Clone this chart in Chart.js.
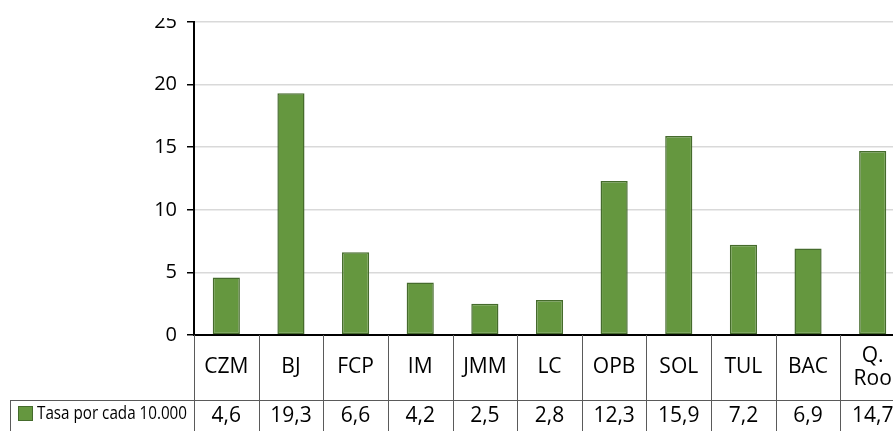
<!DOCTYPE html>
<html>
<head>
<meta charset="utf-8">
<script src="https://cdn.jsdelivr.net/npm/chart.js@4"></script>
<style>
  html, body { margin: 0; padding: 0; background: #fff; overflow: hidden; }
  #wrap { position: absolute; left: 0; top: 18px; width: 893px; height: 413px; overflow: hidden; }
  #chart { position: absolute; left: 0; top: -18px; }
</style>
</head>
<body>
<div id="wrap"><canvas id="chart" width="920" height="460"></canvas></div>
<script>
// data
const categories = ['CZM', 'BJ', 'FCP', 'IM', 'JMM', 'LC', 'OPB', 'SOL', 'TUL', 'BAC', ['Q.', 'Roo']];
const tasa = [4.6, 19.3, 6.6, 4.2, 2.5, 2.8, 12.3, 15.9, 7.2, 6.9, 14.7];
const seriesName = 'Tasa por cada 10.000';
const yTicks = [0, 5, 10, 15, 20, 25];

const green = '#65973f';
const greenDark = '#456b2c';
const font = "'Open Sans', 'DejaVu Sans', sans-serif";

// draws the data table under the bars (labels row + values row with legend key)
const dataTable = {
  id: 'dataTable',
  afterDraw(chart) {
    const c = chart.ctx;
    const x = chart.scales.x;
    const top = chart.chartArea.bottom;
    const rowSplit = 400;
    const bottom = chart.height;
    const n = categories.length;
    const w = (x.right - x.left) / n;

    c.save();
    c.strokeStyle = '#5a5a5a';
    c.lineWidth = 1;
    c.beginPath();
    for (let i = 0; i <= n; i++) {
      const px = Math.round(x.left + i * w) + 0.5;
      c.moveTo(px, top);
      c.lineTo(px, bottom);
    }
    c.moveTo(10, rowSplit + 0.5);
    c.lineTo(chart.width, rowSplit + 0.5);
    c.moveTo(10.5, rowSplit);
    c.lineTo(10.5, bottom);
    c.stroke();

    c.fillStyle = '#000';
    c.textAlign = 'center';
    c.textBaseline = 'middle';
    c.font = '21px ' + font;
    categories.forEach((lab, i) => {
      const cx = x.getPixelForValue(i);
      if (Array.isArray(lab)) {
        c.fillText(lab[0], cx, 356);
        c.fillText(lab[1], cx, 379);
      } else {
        c.fillText(lab, cx, 367);
      }
    });
    tasa.forEach((v, i) => {
      c.fillText(v.toFixed(1).replace('.', ','), x.getPixelForValue(i), 416);
    });

    // legend key
    c.fillStyle = green;
    c.strokeStyle = greenDark;
    c.fillRect(18, 406, 15, 15);
    c.strokeRect(18.5, 406.5, 14, 14);
    c.fillStyle = '#000';
    c.textAlign = 'left';
    c.font = '19px ' + font;
    c.fillText(seriesName, 37, 414, 150);
    c.restore();
  }
};

new Chart(document.getElementById('chart'), {
  type: 'bar',
  data: {
    labels: categories,
    datasets: [{
      label: seriesName,
      data: tasa,
      backgroundColor: green,
      borderColor: greenDark,
      borderWidth: 1.5,
      borderSkipped: false,
      categoryPercentage: 1,
      barPercentage: 0.42
    }]
  },
  options: {
    responsive: false,
    animation: false,
    layout: { padding: { top: 20, right: 15, left: 0, bottom: 0 } },
    plugins: { legend: { display: false }, tooltip: { enabled: false } },
    scales: {
      x: {
        grid: { display: false },
        border: { color: '#000', width: 2 },
        ticks: { display: false },
        afterFit(s) { s.height = 460 - 335; }
      },
      y: {
        min: 0,
        max: 25,
        afterBuildTicks(s) { s.ticks = yTicks.map(v => ({ value: v })); },
        grid: { color: '#d9d9d9', lineWidth: 1.5, tickColor: '#000', tickLength: 7 },
        border: { color: '#000', width: 2 },
        ticks: { color: '#000', padding: 10, font: { family: font, size: 20 } },
        afterFit(s) { s.width = 194; }
      }
    }
  },
  plugins: [dataTable]
});
</script>
</body>
</html>
